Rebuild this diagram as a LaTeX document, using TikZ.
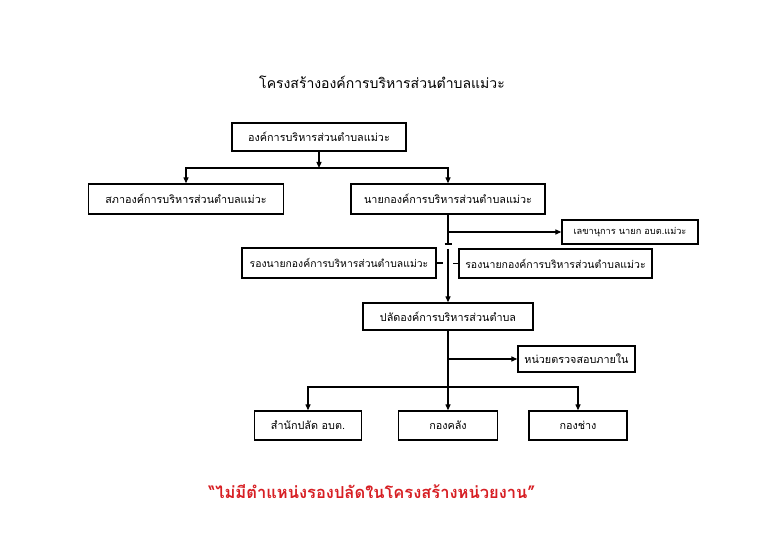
\documentclass[tikz,border=0pt]{standalone}
\usepackage{fontspec}
\newfontfamily\thai[Script=Thai]{Loma}
\usetikzlibrary{arrows.meta}
\definecolor{quotered}{RGB}{215,30,35}
\begin{document}
\begin{tikzpicture}[x=1pt,y=-1pt,
  orgbox/.style={draw=black, line width=1.3pt, inner sep=0pt, font=\thai\fontsize{10.8}{12}\selectfont, text=black, align=center},
  conn/.style={draw=black, line width=1.2pt},
  arr/.style={conn, -{Triangle[length=6pt,width=5pt]}}]
\useasboundingbox[fill=white] (0,0) rectangle (764,540);
\node[font=\thai\fontsize{14}{16}\selectfont] (title) at (382,82) {โครงสร้างองค์การบริหารส่วนตำบลแม่วะ};
\node[orgbox, minimum width=174pt, minimum height=28pt] (top) at (319,137) {องค์การบริหารส่วนตำบลแม่วะ};
\node[orgbox, minimum width=195pt, minimum height=30pt] (sapha) at (186,199) {สภาองค์การบริหารส่วนตำบลแม่วะ};
\node[orgbox, minimum width=194pt, minimum height=30pt] (nayok) at (448,199) {นายกองค์การบริหารส่วนตำบลแม่วะ};
\node[orgbox, minimum width=136pt, minimum height=24pt, font=\thai\fontsize{9.2}{11}\selectfont] (lekha) at (630,232) {เลขานุการ นายก อบต.แม่วะ};
\node[orgbox, minimum width=194pt, minimum height=30pt, font=\thai\fontsize{10.4}{12}\selectfont] (rongL) at (339,263) {รองนายกองค์การบริหารส่วนตำบลแม่วะ};
\node[orgbox, minimum width=193pt, minimum height=29pt, font=\thai\fontsize{10.5}{12}\selectfont] (rongR) at (555.5,263.5) {รองนายกองค์การบริหารส่วนตำบลแม่วะ};
\node[orgbox, minimum width=170pt, minimum height=27pt] (palad) at (448,316.5) {ปลัดองค์การบริหารส่วนตำบล};
\node[orgbox, minimum width=117pt, minimum height=26pt] (audit) at (576.5,359) {หน่วยตรวจสอบภายใน};
\node[orgbox, minimum width=107pt, minimum height=29pt] (samnak) at (308,425.5) {สำนักปลัด อบต.};
\node[orgbox, minimum width=99pt, minimum height=29pt] (klang) at (448,425.5) {กองคลัง};
\node[orgbox, minimum width=98pt, minimum height=29pt] (chang) at (578,425.5) {กองช่าง};
\node[font=\thai\bfseries\fontsize{16.5}{20}\selectfont, text=quotered] (note) at (372,492) {“ไม่มีตำแหน่งรองปลัดในโครงสร้างหน่วยงาน”};
% top level
\coordinate (j1) at (319,168);
\draw[arr] (top.south) -- (j1);
\draw[arr] (j1) -| (sapha.north);
\draw[arr] (j1) -| (nayok.north);
% nayok line
\coordinate (tick) at (448,244);
\coordinate (seg) at (448,249);
\draw[conn] (nayok.south) -- (tick);
\draw[conn] ([xshift=-3.5pt]tick) -- ([xshift=3.5pt]tick);
\draw[arr] (nayok.south |- lekha.west) -- (lekha.west);
\draw[arr] (seg) -- (palad.north);
\draw[conn] (rongL.east) -- ++(6,0);
\draw[conn] (rongR.west) -- ++(-5,0);
% palad level
\coordinate (j2) at (448,387);
\draw[arr] (palad.south) -- (klang.north);
\draw[arr] (palad.south |- audit.west) -- (audit.west);
\draw[arr] (j2) -| (samnak.north);
\draw[arr] (j2) -| (chang.north);
\end{tikzpicture}
\end{document}
